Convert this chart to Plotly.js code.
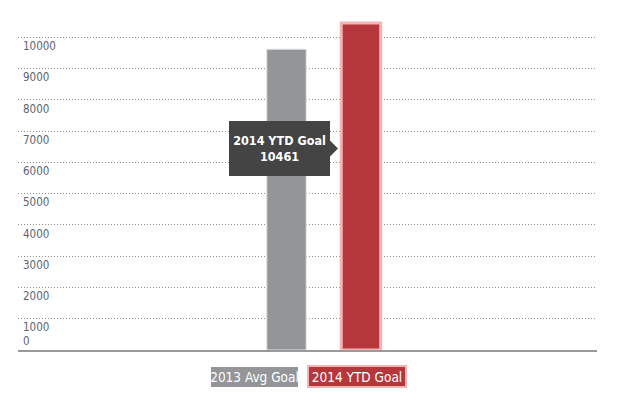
<!DOCTYPE html>
<html>
<head>
<meta charset="utf-8">
<script src="https://cdn.plot.ly/plotly-3.0.1.min.js"></script>
<style>html,body{margin:0;padding:0;background:#fff;}#chart{width:620px;height:401px;}</style>
</head>
<body>
<div id="chart"></div>
<script>
var categories = ["2013 Avg Goal", "2014 YTD Goal"];
var values = [9620, 10461];
var tickValues = [0, 1000, 2000, 3000, 4000, 5000, 6000, 7000, 8000, 9000, 10000];
var tickLabels = ["0", "1000", "2000", "3000", "4000", "5000", "6000", "7000", "8000", "9000", "10000"];
var tooltipIndex = 1;

var FONT = "'DejaVu Sans Condensed', 'Liberation Sans Narrow', 'Liberation Sans', sans-serif";
var colors = ["#939598", "#b5373b"];
var lineColors = ["#e6e6e7", "#f4b3b5"];
var lineWidths = [1, 3];

var pxPerUnit = 31.27 / 1000; // pixels per data unit for label offset
var labelPos = tickValues.map(function (v) { return v === 0 ? v + 9 / pxPerUnit : v - 8.7 / pxPerUnit; });

var traces = categories.map(function (c, i) {
  return {
    type: "bar",
    x: [c],
    y: [values[i]],
    width: 0.53,
    marker: { color: colors[i], line: { color: lineColors[i], width: lineWidths[i] } },
    hoverinfo: "none",
    showlegend: false
  };
});
// invisible trace to carry the label axis
traces.push({ type: "scatter", x: [categories[0]], y: [0], yaxis: "y2", mode: "none", hoverinfo: "none", showlegend: false });

var annotations = [];
// legend-like boxes
var legendX = [254.5, 356.7];
var legendW = [87, 96];
categories.forEach(function (c, i) {
  annotations.push({
    xref: "paper", yref: "paper",
    x: (legendX[i] - 18) / 579, y: (350 - 376.5) / 340,
    xanchor: "center", yanchor: "middle",
    text: c, showarrow: false,
    width: legendW[i], height: i === 1 ? 19 : 20,
    font: { family: FONT, size: 13.5, color: "#ffffff" },
    bgcolor: colors[i], bordercolor: i === 1 ? lineColors[1] : colors[0], borderwidth: i === 1 ? 2 : 0,
    borderpad: 0
  });
});
// tooltip
annotations.push({
  xref: "paper", yref: "paper",
  x: (279.5 - 18) / 579, y: (350 - 148.5) / 340,
  xanchor: "center", yanchor: "middle",
  text: "<b>" + categories[tooltipIndex] + "</b><br><b>" + values[tooltipIndex] + "</b>",
  showarrow: false, width: 101, height: 55, borderpad: 0,
  bgcolor: "#444444", bordercolor: "#444444", borderwidth: 0,
  font: { family: FONT, size: 12.5, color: "#ffffff" }, align: "center"
});

var layout = {
  width: 620, height: 401,
  margin: { l: 18, r: 23, t: 10, b: 51 },
  paper_bgcolor: "#ffffff", plot_bgcolor: "#ffffff",
  barmode: "overlay",
  showlegend: false,
  hovermode: false,
  xaxis: {
    type: "category", range: [-3.604, 4.168],
    showticklabels: false, showgrid: false, zeroline: false,
    showline: true, linecolor: "#999999", linewidth: 1.5, ticks: "",
    fixedrange: true
  },
  yaxis: {
    range: [0, 340 / 31.27 * 1000],
    tickvals: tickValues, showticklabels: false,
    showgrid: true, gridcolor: "#8f8f8f", gridwidth: 1, griddash: "1px,2px",
    zeroline: false, showline: false, ticks: "", fixedrange: true
  },
  yaxis2: {
    overlaying: "y", side: "left",
    range: [0, 340 / 31.27 * 1000],
    tickvals: labelPos, ticktext: tickLabels,
    ticklabelposition: "inside", ticklabelstandoff: 2,
    showgrid: false, zeroline: false, showline: false, ticks: "",
    tickfont: { family: FONT, size: 11.5, color: "#5b6573" },
    fixedrange: true
  },
  shapes: [{
    type: "path", xref: "paper", yref: "paper",
    path: "M " + ((330 - 18) / 579) + " " + ((350 - 140.5) / 340) +
          " L " + ((338 - 18) / 579) + " " + ((350 - 148.5) / 340) +
          " L " + ((330 - 18) / 579) + " " + ((350 - 156.5) / 340) + " Z",
    fillcolor: "#444444", line: { width: 0 }
  }],
  annotations: annotations
};

Plotly.newPlot("chart", traces, layout, { displayModeBar: false, staticPlot: true });
</script>
</body>
</html>
